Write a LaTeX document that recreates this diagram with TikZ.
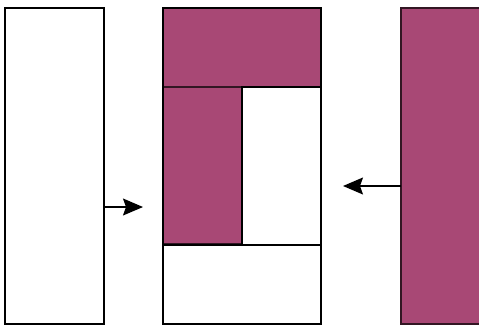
\documentclass[tikz,border=0pt]{standalone}
\usepackage{xcolor}
\usepackage{tikz}
\usetikzlibrary{arrows.meta, calc}
\definecolor{plum}{RGB}{168,72,117}
\tikzset{->, >={Stealth[length=20pt,width=17pt,inset=3pt]}}
\tikzset{box/.style={shape=rectangle, draw=black, line width=1.3pt,
    inner sep=0pt, outer sep=0pt, anchor=north west}}
\tikzset{full/.style={box, fill=plum, draw=black!70!plum}}

\begin{document}
\begin{tikzpicture}[x=1pt,y=-1pt]
    \useasboundingbox (0,0) rectangle (479,327);
    \node[box, minimum width=99pt, minimum height=316pt] (src) at (5,8) {};
    \node[full, minimum width=158pt, minimum height=79pt] (top) at (163,8) {};
    \node[full, minimum width=79pt, minimum height=157pt] (left) at (163,87) {};
    \node[box, fill=white, minimum width=79pt, minimum height=158pt] (hole) at (242,87) {};
    \node[box, minimum width=158pt, minimum height=79pt] (bot) at (163,245) {};
    \node[full, minimum width=84pt, minimum height=316pt] (blk) at (401,8) {};
    \draw[-, line width=2.4pt] (hole.south west) -- (hole.south east);
    \draw[-, line width=1.3pt] (top.north west) rectangle (bot.south east);
    \coordinate (in) at (143,207);
    \coordinate (out) at (343,186);
    \draw[line width=1.3pt] (src.east |- in) -- (in);
    \draw[line width=1.3pt] (blk.west |- out) -- (out);
  \end{tikzpicture}
\end{document}
